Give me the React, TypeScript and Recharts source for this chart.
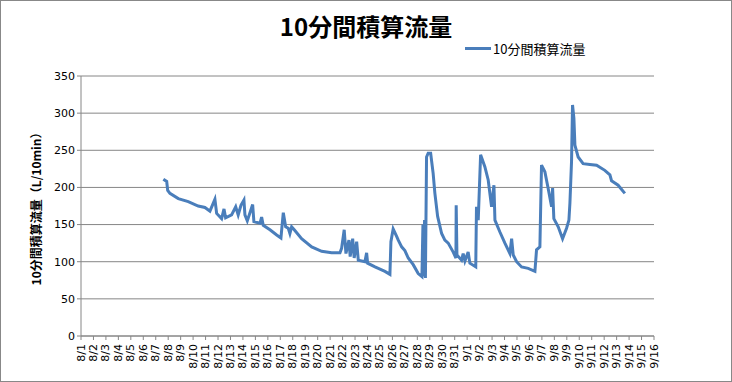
import { LineChart, Line, XAxis, YAxis, CartesianGrid } from "recharts";

// 8/1 = day 0
const dateLabels = [
  "8/1", "8/2", "8/3", "8/4", "8/5", "8/6", "8/7", "8/8", "8/9", "8/10",
  "8/11", "8/12", "8/13", "8/14", "8/15", "8/16", "8/17", "8/18", "8/19", "8/20",
  "8/21", "8/22", "8/23", "8/24", "8/25", "8/26", "8/27", "8/28", "8/29", "8/30",
  "8/31", "9/1", "9/2", "9/3", "9/4", "9/5", "9/6", "9/7", "9/8", "9/9",
  "9/10", "9/11", "9/12", "9/13", "9/14", "9/15", "9/16",
];

const dayOffsets = [
  6.61, 6.88, 6.96, 7.14, 7.81, 8.61, 9.41, 9.95, 10.35, 10.75,
  10.89, 11.29, 11.48, 11.61, 12.09, 12.42, 12.62, 12.84, 13.08, 13.16,
  13.35, 13.78, 13.88, 14.37, 14.5, 14.63, 15.17, 15.71, 16.05, 16.24,
  16.43, 16.64, 16.77, 16.91, 17.12, 17.71, 18.52, 19.32, 20.12, 20.79,
  20.92, 21.13, 21.27, 21.51, 21.61, 21.81, 21.93, 22.13, 22.26, 22.79,
  22.93, 23.01, 23.6, 24.4, 24.8, 24.88, 25.06, 25.34, 25.47, 25.74,
  26.0, 26.27, 26.67, 27.07, 27.37, 27.45, 27.51, 27.58, 27.65, 27.74,
  27.87, 28.07, 28.27, 28.41, 28.63, 28.95, 29.21, 29.48, 29.88, 30.1,
  30.12, 30.18, 30.55, 30.68, 30.82, 31.08, 31.22, 31.69, 31.75, 31.89,
  32.08, 32.42, 32.69, 32.96, 33.15, 33.23, 33.63, 34.03, 34.43, 34.57,
  34.7, 34.97, 35.37, 35.9, 36.44, 36.57, 36.84, 36.97, 37.24, 37.5,
  37.78, 37.86, 37.96, 38.31, 38.66, 38.98, 39.17, 39.25, 39.38, 39.46,
  39.57, 39.65, 39.91, 40.31, 40.85, 41.39, 42.05, 42.46, 42.59, 43.12,
  43.66,
];

const flowValues = [
  211, 208, 196, 192, 185, 181, 175, 173, 168, 184,
  165, 158, 171, 159, 163, 174, 163, 176, 183, 163,
  155, 177, 154, 152, 160, 149, 143, 136, 132, 166,
  147, 145, 138, 147, 143, 131, 120, 114, 112, 112,
  118, 143, 111, 129, 107, 131, 105, 127, 102, 100,
  112, 98, 93, 87, 83, 127, 144, 134, 129, 120,
  115, 105, 96, 84, 80, 150, 80, 156, 78, 241,
  246, 246, 219, 192, 161, 138, 129, 125, 113, 105,
  176, 109, 102, 111, 101, 113, 98, 93, 174, 156,
  244, 228, 210, 174, 203, 156, 140, 125, 111, 131,
  109, 100, 93, 91, 87, 116, 120, 230, 221, 199,
  174, 199, 158, 147, 131, 145, 156, 179, 235, 311,
  293, 257, 241, 232, 231, 230, 223, 217, 209, 203,
  192,
];

const yTicks = [0, 50, 100, 150, 200, 250, 300, 350];

const data = dayOffsets.map((d, i) => ({ day: d, flow: flowValues[i] }));
const xTicks = dateLabels.map((_, i) => i);

const tickFont = "'DejaVu Sans', sans-serif";
const jpFont = "'Noto Sans CJK JP', sans-serif";

const DateTick = (props: any) => {
  const { x, payload } = props;
  const y = 343;
  return (
    <text
      x={x}
      y={y}
      transform={`rotate(-90 ${x} ${y})`}
      textAnchor="end"
      dominantBaseline="central"
      fontSize={11}
      fontFamily={tickFont}
      fill="#000"
    >
      {dateLabels[payload.value]}
    </text>
  );
};

export default function App() {
  return (
    <div
      style={{
        position: "absolute",
        left: 0,
        top: 0,
        width: 730,
        height: 380,
        border: "1px solid #888",
        background: "#fff",
      }}
    >
      <div
        style={{
          position: "absolute",
          left: 0,
          width: 730,
          top: 10,
          textAlign: "center",
          fontFamily: jpFont,
          fontWeight: "bold",
          fontSize: 24,
          lineHeight: "30px",
        }}
      >
        10分間積算流量
      </div>
      <div
        style={{
          position: "absolute",
          left: 464,
          top: 38,
          display: "flex",
          alignItems: "center",
          fontFamily: jpFont,
          fontSize: 13,
        }}
      >
        <span style={{ width: 26, height: 3, background: "#4A7EBB", display: "inline-block", marginRight: 2 }} />
        10分間積算流量
      </div>
      <LineChart
        width={730}
        height={380}
        data={data}
        margin={{ top: 75, right: 77, bottom: 0, left: 0 }}
      >
        <CartesianGrid horizontal vertical={false} stroke="#868686" strokeWidth={1} />
        <XAxis
          dataKey="day"
          type="number"
          domain={[0, 46]}
          ticks={xTicks}
          interval={0}
          tickSize={4}
          height={45}
          stroke="#868686"
          tick={<DateTick />}
        />
        <YAxis
          type="number"
          domain={[0, 350]}
          ticks={yTicks}
          interval={0}
          width={80}
          tickSize={4}
          stroke="#868686"
          tick={{ fontSize: 11, fontFamily: tickFont, fill: "#000" }}
          label={{
            content: () => (
              <text
                x={34}
                y={205}
                transform="rotate(-90 34 205)"
                textAnchor="middle"
                dominantBaseline="central"
                fontSize={12}
                fontWeight="bold"
                fontFamily={jpFont}
                fill="#000"
              >
                10分間積算流量（L/10min）
              </text>
            ),
          }}
        />
        <Line
          type="linear"
          dataKey="flow"
          stroke="#4A7EBB"
          strokeWidth={3}
          dot={false}
          isAnimationActive={false}
        />
      </LineChart>
    </div>
  );
}
